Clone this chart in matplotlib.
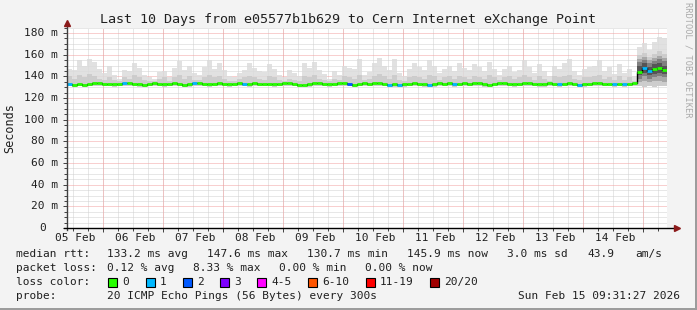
import numpy as np
import matplotlib
matplotlib.use("Agg")
import matplotlib.pyplot as plt

# SmokePing style chart: 10 days, 2 hour bins
W, H = 697, 310
plt.rcParams['font.family'] = ['DejaVu Sans Mono']

title = "Last 10 Days from e05577b1b629 to Cern Internet eXchange Point"
day_labels = ["05 Feb", "06 Feb", "07 Feb", "08 Feb", "09 Feb",
              "10 Feb", "11 Feb", "12 Feb", "13 Feb", "14 Feb"]
y_ticks = [0, 20, 40, 60, 80, 100, 120, 140, 160, 180]
y_labels = ["0", "20 m", "40 m", "60 m", "80 m", "100 m", "120 m", "140 m", "160 m", "180 m"]

# median rtt per 2h bin (ms)
median_rtt = [
    132.6, 132.4, 133.0, 132.2, 132.8, 133.6, 133.8, 133.2, 133.0, 132.6,
    133.0, 133.4, 133.6, 133.2, 132.8, 132.2, 133.0, 133.6, 133.2, 132.8,
    133.2, 133.6, 133.0, 132.4, 132.8, 133.4, 133.6, 133.2, 132.8, 133.0,
    133.4, 133.0, 132.6, 133.2, 133.6, 133.0, 132.6, 133.4, 133.0, 133.2,
    133.0, 132.6, 133.2, 133.6, 133.4, 133.0, 132.4, 132.0, 132.8, 133.4,
    133.6, 133.2, 132.8, 133.2, 133.6, 133.4, 133.0, 132.4, 133.0, 133.4,
    133.2, 133.6, 133.4, 133.0, 132.2, 132.6, 131.8, 132.6, 133.2, 133.4,
    133.0, 132.6, 132.0, 132.8, 133.4, 133.2, 133.6, 132.8, 133.0, 133.4,
    133.2, 133.6, 133.4, 132.6, 132.0, 133.0, 133.4, 133.6, 133.2, 132.8,
    133.0, 133.4, 133.6, 133.2, 132.6, 132.8, 133.4, 133.0, 132.8, 133.2,
    133.6, 133.2, 132.2, 132.6, 133.2, 133.6, 133.4, 133.0, 133.2, 132.6,
    133.0, 132.8, 133.2, 133.4, 144.0, 148.0, 145.0, 147.0, 148.0, 146.0,
]
# lost pings (of 20) per bin
loss = [
    1, 0, 0, 0, 0, 0, 0, 0, 0, 0,
    0, 1, 0, 0, 0, 0, 0, 0, 0, 0,
    0, 0, 0, 0, 0, 1, 0, 0, 0, 0,
    0, 0, 0, 0, 0, 1, 0, 0, 0, 0,
    0, 0, 0, 0, 0, 0, 0, 0, 0, 0,
    0, 0, 0, 0, 0, 0, 2, 0, 0, 0,
    0, 0, 0, 0, 1, 0, 1, 0, 0, 0,
    0, 0, 1, 0, 0, 0, 0, 1, 0, 0,
    0, 0, 0, 0, 0, 0, 0, 0, 0, 0,
    0, 0, 0, 0, 0, 0, 0, 0, 1, 0,
    0, 0, 1, 0, 0, 0, 0, 0, 0, 1,
    0, 1, 0, 0, 0, 1, 1, 0, 0, 0,
]
# highest ping per bin
smoke_max = [
    147, 146, 155, 150, 156, 153, 147, 143, 150, 141,
    138, 146, 145, 152, 148, 141, 139, 138, 144, 145,
    139, 148, 154, 146, 150, 143, 141, 149, 155, 147,
    152, 146, 140, 139, 143, 146, 152, 148, 145, 144,
    151, 147, 141, 139, 146, 143, 140, 152, 148, 153,
    146, 142, 138, 145, 141, 150, 148, 147, 156, 141,
    144, 152, 157, 150, 146, 156, 143, 140, 147, 152,
    149, 146, 155, 150, 143, 147, 150, 145, 152, 148,
    146, 151, 149, 145, 153, 147, 141, 147, 150, 144,
    146, 155, 149, 143, 151, 145, 140, 150, 147, 152,
    156, 145, 141, 147, 149, 150, 155, 145, 149, 142,
    151, 143, 147, 140, 167, 171, 164, 172, 176, 175,
]
# upper edge of the denser smoke
smoke_mid = [
    140, 138, 141, 139, 142, 140, 138, 137, 139, 137,
    136, 139, 138, 141, 139, 137, 136, 136, 138, 139,
    136, 139, 141, 138, 140, 137, 137, 139, 141, 139,
    140, 138, 136, 136, 138, 139, 140, 139, 138, 137,
    140, 139, 137, 136, 138, 137, 136, 140, 139, 141,
    138, 137, 136, 138, 137, 140, 139, 138, 141, 137,
    138, 140, 142, 140, 138, 141, 137, 136, 139, 140,
    139, 138, 141, 140, 137, 139, 140, 138, 140, 139,
    138, 140, 139, 138, 141, 139, 137, 139, 140, 138,
    139, 141, 139, 137, 140, 138, 136, 140, 139, 140,
    141, 138, 137, 139, 139, 140, 141, 138, 139, 137,
    140, 137, 139, 136, 160, 162, 158, 161, 163, 161,
]
# lowest ping per bin
smoke_min = [
    131, 130, 131, 130, 131, 131, 131, 131, 131, 130,
    131, 131, 131, 131, 130, 130, 131, 131, 131, 130,
    131, 131, 131, 130, 130, 131, 131, 131, 130, 131,
    131, 131, 130, 131, 131, 131, 130, 131, 131, 131,
    131, 130, 131, 131, 131, 131, 130, 130, 130, 131,
    131, 131, 130, 131, 131, 131, 131, 130, 131, 131,
    131, 131, 131, 131, 130, 130, 130, 130, 131, 131,
    131, 130, 130, 130, 131, 131, 131, 130, 131, 131,
    131, 131, 131, 130, 130, 131, 131, 131, 131, 130,
    131, 131, 131, 131, 130, 130, 131, 131, 130, 131,
    131, 131, 130, 130, 131, 131, 131, 131, 131, 130,
    131, 130, 131, 131, 131, 130, 131, 130, 131, 131,
]
# inner smoke bands after the route change (bins 114..119)
band_lo = [135, 136, 135, 136, 136, 135]
band_hi = [156, 158, 155, 157, 159, 157]
inner_lo = [138, 140, 138, 139, 140, 139]
inner_hi = [153, 155, 152, 154, 156, 154]
core_lo = [141, 143, 141, 142, 143, 142]
core_hi = [150, 152, 149, 151, 152, 150]

loss_colors = {0: "#26ff00", 1: "#00b8ff", 2: "#0059ff", 3: "#7e00ff",
               4: "#dd00ff", 6: "#ff5500", 11: "#ff0000", 20: "#a10000"}
legend_items = [("0", "#26ff00"), ("1", "#00b8ff"), ("2", "#0059ff"), ("3", "#7e00ff"),
                ("4-5", "#ff00ff"), ("6-10", "#ff5500"), ("11-19", "#ff0000"), ("20/20", "#a10000")]


def loss_color(n):
    key = max(k for k in loss_colors if k <= n)
    return loss_colors[key]


def ext(a):
    # repeat last value so step='post' fills the final bin
    return np.array(list(a) + [a[-1]])


fig = plt.figure(figsize=(W / 100, H / 100), dpi=100, facecolor="#f3f3f3")

# plot area in pixels: x 67..667, y 27.7..228
ax = fig.add_axes([67 / W, (H - 228) / H, 600 / W, 200.4 / H])
ax.set_facecolor("white")
ax.set_xlim(0, 240)
ax.set_ylim(0, 185)
for s in ax.spines.values():
    s.set_visible(False)

start_hour = 9 + 31 / 60 + 27 / 3600
first_midnight = 24 - start_hour
midnights = first_midnight + 24 * np.arange(10)
six_hours = first_midnight - 18 + 6 * np.arange(41)
six_hours = six_hours[(six_hours > 0) & (six_hours < 240)]
noons = first_midnight - 12 + 24 * np.arange(10)

# grid
dot = (0, (1, 1))
for v in np.arange(5, 186, 5):
    if v % 20:
        ax.axhline(v, color="#d0d0d0", lw=0.72, ls=dot, zorder=0)
for v in six_hours:
    ax.axvline(v, color="#d0d0d0", lw=0.72, ls=dot, zorder=0)
for v in y_ticks[1:]:
    ax.axhline(v, color="#f2a0a0", lw=0.72, ls=dot, zorder=0.5)
for v in midnights:
    ax.axvline(v, color="#f2a0a0", lw=0.72, ls=dot, zorder=0.5)

# smoke
n = len(median_rtt)
edges = np.arange(n + 1) * 240 / n
ax.fill_between(edges, ext(smoke_min), ext(smoke_max), step="post", color="#dcdcdc", lw=0,
                alpha=0.85, zorder=1)
ax.fill_between(edges, ext(smoke_min), ext(smoke_mid), step="post", color="#c8c8c8", lw=0,
                alpha=0.8, zorder=1.1)
k = n - len(core_lo)
end_edges = edges[k:]
for a, b, col, z in [(band_lo, band_hi, "#a8a8a8", 1.2), (inner_lo, inner_hi, "#808080", 1.3),
                     (core_lo, core_hi, "#555555", 1.4)]:
    ax.fill_between(end_edges, ext(a), ext(b), step="post", color=col, lw=0, zorder=z)

# median line
ax.step(edges, ext(median_rtt), where="post", color="black", lw=1.0, zorder=2)
for i in range(n):
    ax.hlines(median_rtt[i], edges[i], edges[i + 1], color=loss_color(loss[i]),
              lw=2.0, zorder=3)

# axes lines with arrows
ax.plot([0, 0], [-1.5, 189], color="#404040", lw=1, clip_on=False, zorder=4)
ax.plot([-1.2, 243], [0, 0], color="black", lw=1, clip_on=False, zorder=4)
ax.plot([0], [189.5], marker="^", ms=5, color="#8b1a1a", clip_on=False, zorder=5)
ax.plot([244], [0], marker=">", ms=5, color="#8b1a1a", clip_on=False, zorder=5)

# ticks
ax.set_yticks(y_ticks)
ax.set_yticks(np.arange(5, 186, 5), minor=True)
ax.tick_params(axis="y", which="major", length=3, width=0.7, color="#404040", labelleft=False)
ax.tick_params(axis="y", which="minor", length=2, width=0.7, color="#404040")
ax.set_xticks(midnights)
ax.set_xticks(six_hours, minor=True)
ax.tick_params(axis="x", which="major", length=3, width=0.7, color="#404040", labelbottom=False)
ax.tick_params(axis="x", which="minor", length=2, width=0.7, color="#404040")

for v, lab in zip(y_ticks, y_labels):
    off = -21 if lab == "0" else -9
    ax.annotate(lab, xy=(0, v), xycoords=("axes fraction", "data"), xytext=(off, 0),
                textcoords="offset pixels", ha="right", va="center", fontsize=8, color="#202020")
for v, lab in zip(noons, day_labels):
    ax.annotate(lab, xy=(v, 0), xycoords=("data", "axes fraction"), xytext=(2, -10),
                textcoords="offset pixels", ha="center", va="center", fontsize=8, color="#202020")


def px(x, y, s, **kw):
    kw.setdefault("fontsize", 8)
    kw.setdefault("color", "#202020")
    kw.setdefault("va", "center")
    fig.text(x / W, 1 - y / H, s, **kw)


px(348, 19, title, fontsize=9.6, ha="center")
px(10, 128, "Seconds", rotation=90, ha="center", fontsize=8.5)
px(688, 60, "RRDTOOL / TOBI OETIKER", rotation=270, ha="center", fontsize=6.2, color="#aaaaaa")

px(16, 254, "median rtt:")
px(107, 254, "133.2 ms avg")
px(207, 254, "147.6 ms max")
px(307, 254, "130.7 ms min")
px(407, 254, "145.9 ms now")
px(507, 254, "3.0 ms sd")
px(587, 254, "43.9")
px(635, 254, "am/s")

px(16, 268, "packet loss:")
px(107, 268, "0.12 % avg")
px(193, 268, "8.33 % max")
px(279, 268, "0.00 % min")
px(365, 268, "0.00 % now")

px(16, 282, "loss color:")
sq_x = [108, 146, 183, 220, 257, 308, 366, 430]
for x, (lab, col) in zip(sq_x, legend_items):
    fig.patches.append(plt.Rectangle((x / W, 1 - 287 / H), 9 / W, 9 / H, transform=fig.transFigure,
                                     facecolor=col, edgecolor="black", lw=0.8))
    px(x + 14, 282, lab)

px(16, 296, "probe:")
px(107, 296, "20 ICMP Echo Pings (56 Bytes) every 300s")
px(680, 296, "Sun Feb 15 09:31:27 2026", ha="right")

# frame
fig.patches.append(plt.Rectangle((0, 0), 1, 2 / H, transform=fig.transFigure, facecolor="#9c9c9c", lw=0))
fig.patches.append(plt.Rectangle((1 - 2 / W, 0), 2 / W, 1, transform=fig.transFigure, facecolor="#9c9c9c", lw=0))

fig.savefig("out.png", dpi=100, facecolor=fig.get_facecolor())
